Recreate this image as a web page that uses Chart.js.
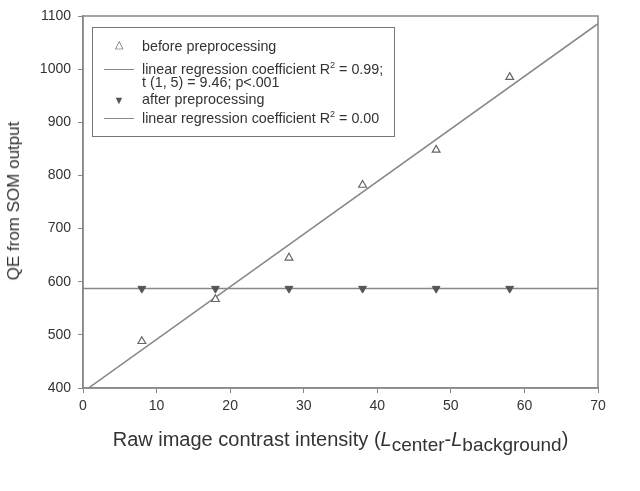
<!DOCTYPE html>
<html>
<head>
<meta charset="utf-8">
<script src="https://cdn.jsdelivr.net/npm/chart.js@4.4.1/dist/chart.umd.min.js"></script>
<style>
  html, body { margin: 0; padding: 0; background: #fff; }
  #wrap { position: relative; width: 640px; height: 491px; font-family: "Liberation Sans", Arial, sans-serif; color: #333; }
  canvas { position: absolute; left: 0; top: 0; }
  .legend { position: absolute; left: 92px; top: 27px; width: 301px; height: 108px; border: 1.5px solid #777; font-size: 14.3px; line-height: 14px; }
  .legend .row { position: absolute; left: 49px; white-space: nowrap; }
  .legend .sym { position: absolute; left: 16px; width: 20px; text-align: center; font-size: 11px; line-height: 11px; color: #555; }
  .legend .ln { position: absolute; left: 11px; width: 30px; border-top: 1.5px solid #888; }
  .legend sup { font-size: 9px; line-height: 0; }
  .xtitle { position: absolute; left: 83px; width: 515px; top: 428px; text-align: center; font-size: 20px; line-height: 22px; white-space: nowrap; }
  .xtitle sub { font-size: 19px; line-height: 0; vertical-align: -5px; }
  .ytitle { position: absolute; left: 14px; top: 201px; font-size: 17px; white-space: nowrap; transform: translate(-50%, -50%) rotate(-90deg); }
</style>
</head>
<body>
<div id="wrap">
  <canvas id="chart" width="640" height="491"></canvas>
  <div class="legend">
    <div class="sym" style="top:11px">&#9651;</div>
    <div class="row" style="top:11px">before preprocessing</div>
    <div class="ln" style="top:41px"></div>
    <div class="row" style="top:34px">linear regression coefficient R<sup>2</sup> = 0.99;</div>
    <div class="row" style="top:47px">t (1, 5) = 9.46; p&lt;.001</div>
    <div class="sym" style="top:67px">&#9660;</div>
    <div class="row" style="top:64px">after preprocessing</div>
    <div class="ln" style="top:90px"></div>
    <div class="row" style="top:83px">linear regression coefficient R<sup>2</sup> = 0.00</div>
  </div>
  <div class="ytitle">QE from SOM output</div>
  <div class="xtitle">Raw image contrast intensity (<i>L</i><sub>center</sub>-<i>L</i><sub>background</sub>)</div>
</div>
<script>
const contrast = [8, 18, 28, 38, 48, 58];
const qeBefore = [488, 567, 645, 782, 848, 985];
const qeAfter = [587, 587, 587, 587, 587, 587];
const xTicks = [0, 10, 20, 30, 40, 50, 60, 70];
const yTicks = [400, 500, 600, 700, 800, 900, 1000, 1100];

// least squares fit, drawn across the full x range
function fit(xs, ys) {
  const n = xs.length;
  const mx = xs.reduce((a, b) => a + b, 0) / n;
  const my = ys.reduce((a, b) => a + b, 0) / n;
  let sxy = 0, sxx = 0;
  xs.forEach((x, i) => { sxy += (x - mx) * (ys[i] - my); sxx += (x - mx) * (x - mx); });
  const b = sxy / sxx, a = my - b * mx;
  return [xTicks[0], xTicks[xTicks.length - 1]].map(x => ({ x, y: a + b * x }));
}

const pts = (xs, ys) => xs.map((x, i) => ({ x, y: ys[i] }));

const frame = {
  id: 'frame',
  afterDatasetsDraw(chart) {
    const { ctx, chartArea: a } = chart;
    ctx.save();
    ctx.strokeStyle = '#888';
    ctx.lineWidth = 1.5;
    ctx.strokeRect(a.left, a.top, a.right - a.left, a.bottom - a.top);
    ctx.restore();
  }
};

const tickFont = { family: 'Liberation Sans', size: 14 };

new Chart(document.getElementById('chart'), {
  type: 'scatter',
  data: {
    datasets: [
      { type: 'line', data: fit(contrast, qeBefore), borderColor: '#888', borderWidth: 1.5, pointRadius: 0, order: 2 },
      { type: 'line', data: fit(contrast, qeAfter), borderColor: '#888', borderWidth: 1.5, pointRadius: 0, order: 2 },
      { data: pts(contrast, qeBefore), pointStyle: 'triangle', pointRadius: 4.5, backgroundColor: '#fff', borderColor: '#666', borderWidth: 1.2, order: 1 },
      { data: pts(contrast, qeAfter), pointStyle: 'triangle', rotation: 180, pointRadius: 4.5, backgroundColor: '#555', borderColor: '#555', borderWidth: 1, order: 1 }
    ]
  },
  options: {
    responsive: false,
    animation: false,
    layout: { padding: { top: 16, right: 42, left: 0, bottom: 0 } },
    plugins: { legend: { display: false }, tooltip: { enabled: false } },
    scales: {
      x: {
        type: 'linear', min: 0, max: 70,
        afterBuildTicks: s => { s.ticks = xTicks.map(v => ({ value: v })); },
        afterFit: s => { s.height = 103; },
        ticks: { color: '#333', font: tickFont, padding: 5, callback: v => String(v) },
        grid: { drawOnChartArea: false, tickLength: 5, color: '#888' },
        border: { color: '#888', width: 1.5 }
      },
      y: {
        type: 'linear', min: 400, max: 1100,
        afterBuildTicks: s => { s.ticks = yTicks.map(v => ({ value: v })); },
        afterFit: s => { s.width = 83; },
        ticks: { color: '#333', font: tickFont, padding: 7, callback: v => String(v) },
        grid: { drawOnChartArea: false, tickLength: 5, color: '#888' },
        border: { color: '#888', width: 1.5 }
      }
    }
  },
  plugins: [frame]
});
</script>
</body>
</html>
